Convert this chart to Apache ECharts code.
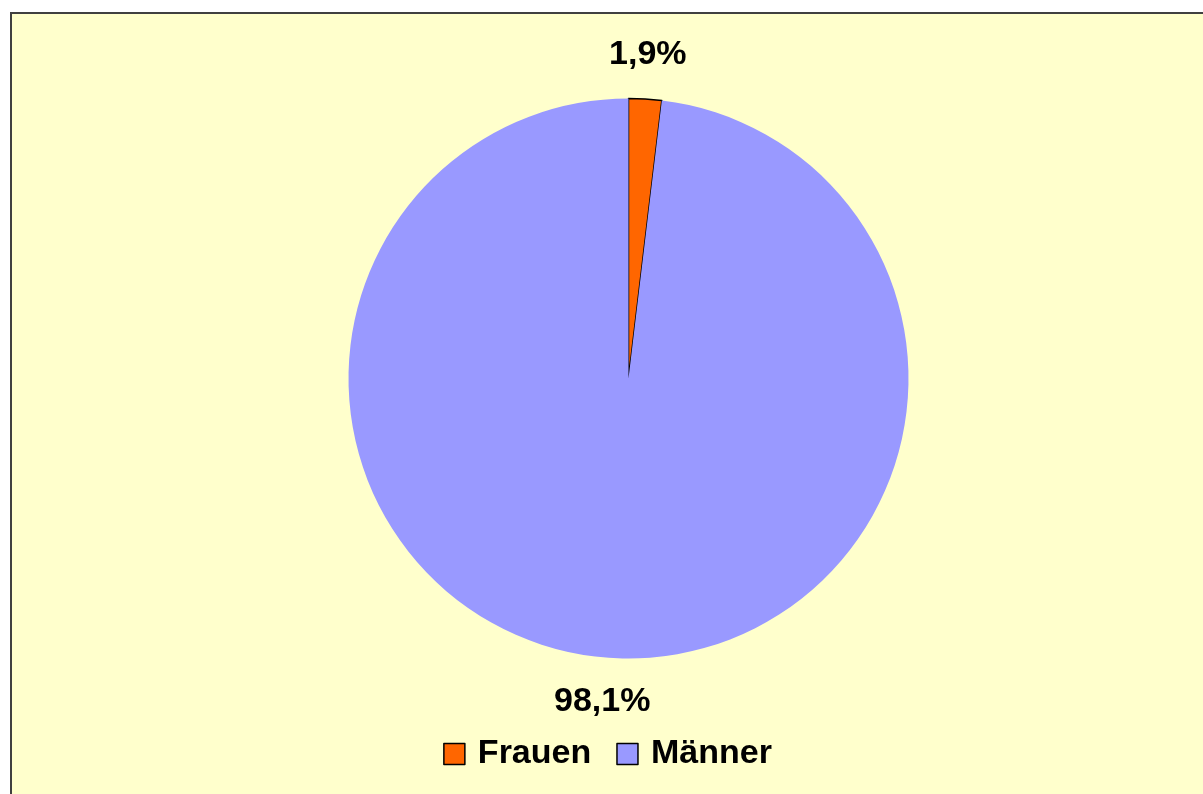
<!DOCTYPE html>
<html>
<head>
<meta charset="utf-8">
<script src="https://cdn.jsdelivr.net/npm/echarts@6/dist/echarts.min.js"></script>
<style>
  html, body { margin: 0; padding: 0; background: #ffffff; overflow: hidden; width: 1203px; height: 794px; }
  #frame { position: absolute; left: 10px; top: 12px; width: 1200px; height: 800px;
           border: 2px solid #404040; background: #FFFFCC; }
  #chart { width: 1191px; height: 780px; }
</style>
</head>
<body>
<div id="frame"><div id="chart"></div></div>
<script>
const categories = ['Frauen', 'Männer'];
const values = [1.9, 98.1];
const labels = ['1,9%', '98,1%'];
const colors = ['#FF6600', '#9999FF'];

const chart = echarts.init(document.getElementById('chart'), null, { renderer: 'canvas' });

const labelOffsets = [[0, 0], [-7, 0]];

const pieData = categories.map((c, i) => ({
  name: c,
  value: values[i],
  itemStyle: i === 0
    ? { color: colors[i], borderColor: '#000000', borderWidth: 1.5 }
    : { color: colors[i], borderWidth: 0 }
}));

const labelData = categories.map((c, i) => ({
  name: c,
  value: values[i],
  label: { formatter: labels[i], offset: labelOffsets[i] }
}));

chart.setOption({
  animation: false,
  backgroundColor: 'transparent',
  legend: {
    data: categories,
    left: 'center',
    top: 716,
    itemWidth: 21,
    itemHeight: 21,
    itemGap: 25,
    icon: 'rect',
    itemStyle: { borderColor: '#000000', borderWidth: 1.5 },
    textStyle: {
      fontFamily: 'Liberation Sans, Arial, sans-serif',
      fontWeight: 'bold',
      fontSize: 34,
      color: '#000000',
      lineHeight: 38,
      padding: [0, 0, 0, 8]
    }
  },
  series: [
    {
      type: 'pie',
      center: [616.5, 364.5],
      radius: 280,
      startAngle: 90,
      clockwise: true,
      label: { show: false },
      labelLine: { show: false },
      emphasis: { disabled: true },
      data: pieData
    },
    {
      type: 'pie',
      center: [616.5, 364.5],
      radius: [300, 342],
      startAngle: 90,
      clockwise: true,
      silent: true,
      itemStyle: { color: 'rgba(0,0,0,0)', borderWidth: 0 },
      label: {
        show: true,
        position: 'inside',
        fontFamily: 'Liberation Sans, Arial, sans-serif',
        fontWeight: 'bold',
        fontSize: 34,
        color: '#000000'
      },
      labelLine: { show: false },
      emphasis: { disabled: true },
      data: labelData
    }
  ]
});
</script>
</body>
</html>
